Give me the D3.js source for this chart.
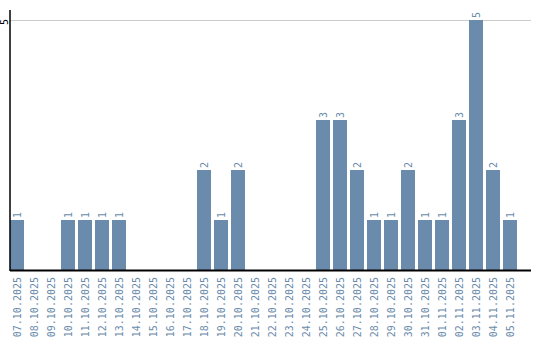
<!DOCTYPE html>
<html>
<head>
<meta charset="utf-8">
<script src="https://cdn.jsdelivr.net/npm/d3@7"></script>
<style>
  body { margin: 0; background: #fff; }
  text { font-family: "DejaVu Sans Mono", monospace; font-size: 10px; }
</style>
</head>
<body>
<svg width="540" height="340"></svg>
<script>
var days = ["07.10.2025","08.10.2025","09.10.2025","10.10.2025","11.10.2025","12.10.2025",
    "13.10.2025","14.10.2025","15.10.2025","16.10.2025","17.10.2025","18.10.2025",
    "19.10.2025","20.10.2025","21.10.2025","22.10.2025","23.10.2025","24.10.2025",
    "25.10.2025","26.10.2025","27.10.2025","28.10.2025","29.10.2025","30.10.2025",
    "31.10.2025","01.11.2025","02.11.2025","03.11.2025","04.11.2025","05.11.2025"];
var counts = [1,0,0,1,1,1,1,0,0,0,0,2,1,2,0,0,0,0,3,3,2,1,1,2,1,1,3,5,2,1];
var yTicks = [5];

var svg = d3.select("svg"),
    barColor = "#6a8bab";

var rows = days.map(function(d, i) { return {day: d, n: counts[i]}; });

var x = d3.scaleBand()
    .domain(days)
    .range([10, 517])
    .paddingInner(3 / 17)
    .paddingOuter(0)
    .align(0);

var y = d3.scaleLinear()
    .domain([0, 5])
    .range([270, 20]);

// grid
svg.selectAll(".grid")
    .data(yTicks)
  .enter().append("line")
    .attr("x1", 10).attr("x2", 531)
    .attr("y1", function(d) { return y(d) + 0.5; })
    .attr("y2", function(d) { return y(d) + 0.5; })
    .attr("stroke", "#cccccc");

svg.selectAll(".ytick")
    .data(yTicks)
  .enter().append("text")
    .attr("transform", function(d) { return "translate(8," + (y(d) + 2) + ") rotate(-90)"; })
    .attr("text-anchor", "middle")
    .attr("fill", "#000")
    .text(function(d) { return d; });

// bars
svg.selectAll(".bar")
    .data(rows)
  .enter().append("rect")
    .attr("x", function(d) { return x(d.day); })
    .attr("y", function(d) { return y(d.n); })
    .attr("width", x.bandwidth())
    .attr("height", function(d) { return y(0) - y(d.n); })
    .attr("fill", barColor);

// value labels
svg.selectAll(".val")
    .data(rows.filter(function(d) { return d.n > 0; }))
  .enter().append("text")
    .attr("transform", function(d) {
        return "translate(" + (x(d.day) + x.bandwidth() / 2 + 3.5) + "," + (y(d.n) - 2) + ") rotate(-90)";
    })
    .attr("fill", barColor)
    .text(function(d) { return d.n; });

// x labels
svg.selectAll(".xl")
    .data(days)
  .enter().append("text")
    .attr("transform", function(d) {
        return "translate(" + (x(d) + x.bandwidth() / 2 + 3.5) + ",277) rotate(-90)";
    })
    .attr("text-anchor", "end")
    .attr("fill", barColor)
    .text(function(d) { return d; });

// axes lines
svg.append("line")
    .attr("x1", 10).attr("x2", 10)
    .attr("y1", 10).attr("y2", 271)
    .attr("stroke", "#000").attr("stroke-width", 1.5);

svg.append("line")
    .attr("x1", 10).attr("x2", 531)
    .attr("y1", 270.5).attr("y2", 270.5)
    .attr("stroke", "#000").attr("stroke-width", 2);
</script>
</body>
</html>
